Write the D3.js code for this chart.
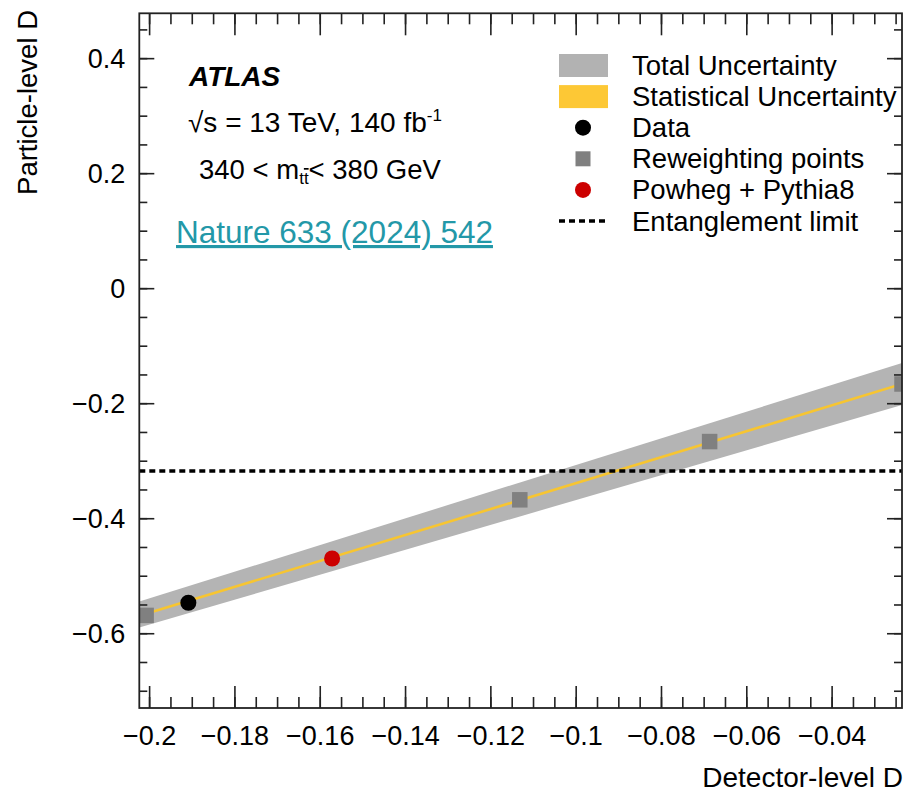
<!DOCTYPE html>
<html>
<head>
<meta charset="utf-8">
<script src="https://cdn.jsdelivr.net/npm/d3@7"></script>
<style>
  body { margin: 0; background: #fff; }
  text { font-family: "Liberation Sans", Arial, sans-serif; fill: #000; }
  .axis path { display: none; }
  .axis line { stroke: #222; stroke-width: 1.6; }
  .axis text { font-size: 27px; }
</style>
</head>
<body>
<svg id="chart"></svg>
<script>
// tick labels
let xMajor = [-0.2, -0.18, -0.16, -0.14, -0.12, -0.1, -0.08, -0.06, -0.04];
let yMajor = [-0.6, -0.4, -0.2, 0, 0.2, 0.4];

// reweighting points (detector-level D, particle-level D)
let reweightX = [-0.2007, -0.1131, -0.0686, -0.0235];
let reweightY = [-0.569, -0.368, -0.2667, -0.1666];

// measured data and MC prediction
let dataX = [-0.1908];
let dataY = [-0.547];
let powhegX = [-0.1571];
let powhegY = [-0.470];

// calibration line and total uncertainty band
let fitX = [-0.2023, -0.0235];
let fitY = [-0.5698, -0.1666];
let bandLo = [-0.590, -0.203];
let bandHi = [-0.545, -0.130];

// entanglement limit
let limitD = -0.318;

let legendItems = ["Total Uncertainty", "Statistical Uncertainty", "Data",
  "Reweighting points", "Powheg + Pythia8", "Entanglement limit"];

let width = 906, height = 792;
let margin = {left: 139.3, right: 4, top: 13.3, bottom: 84};
let x0 = margin.left, x1 = width - margin.right;
let y0 = margin.top, y1 = height - margin.bottom;

let svg = d3.select("#chart").attr("width", width).attr("height", height);

let x = d3.scaleLinear().domain([-0.2023, -0.0235]).range([x0, x1]);
let y = d3.scaleLinear().domain([-0.73, 0.478]).range([y1, y0]);

let fmt = d3.format("");
let xMinor = d3.range(-0.2, -0.0234, 0.005).filter(v => v >= -0.2023);
let yMinor = d3.range(-0.7, 0.48, 0.05);

//clip region = plot frame
svg.append("clipPath").attr("id", "clip")
  .append("rect").attr("x", x0).attr("y", y0).attr("width", x1 - x0).attr("height", y1 - y0);

let plot = svg.append("g").attr("clip-path", "url(#clip)");

// total uncertainty band
let band = fitX.map((v, i) => ({x: v, lo: bandLo[i], hi: bandHi[i]}));
plot.append("path").datum(band)
  .attr("d", d3.area().x(d => x(d.x)).y0(d => y(d.lo)).y1(d => y(d.hi)))
  .attr("fill", "#b4b4b4");

// statistical (thin yellow line)
plot.append("path").datum(fitX.map((v, i) => [v, fitY[i]]))
  .attr("d", d3.line().x(d => x(d[0])).y(d => y(d[1])))
  .attr("stroke", "#f7c531").attr("stroke-width", 2.6).attr("fill", "none");

// entanglement limit
plot.append("line")
  .attr("x1", x0).attr("x2", x1).attr("y1", y(limitD)).attr("y2", y(limitD))
  .attr("stroke", "#000").attr("stroke-width", 3.5).attr("stroke-dasharray", "6,4");

// reweighting squares
let sq = 15.5;
plot.selectAll("rect.rw").data(reweightX.map((v, i) => [v, reweightY[i]])).enter()
  .append("rect").attr("class", "rw")
  .attr("x", d => x(d[0]) - sq / 2).attr("y", d => y(d[1]) - sq / 2)
  .attr("width", sq).attr("height", sq).attr("fill", "#808080");

plot.selectAll("circle.pw").data(powhegX.map((v, i) => [v, powhegY[i]])).enter()
  .append("circle").attr("class", "pw")
  .attr("cx", d => x(d[0])).attr("cy", d => y(d[1])).attr("r", 8).attr("fill", "#cc0000");

plot.selectAll("circle.data").data(dataX.map((v, i) => [v, dataY[i]])).enter()
  .append("circle").attr("class", "data")
  .attr("cx", d => x(d[0])).attr("cy", d => y(d[1])).attr("r", 8).attr("fill", "#000");

// axes: ticks point inward
function addAxis(axis, tx, ty) {
  let g = svg.append("g").attr("class", "axis").attr("transform", translate(tx, ty)).call(axis);
  return g;
}
addAxis(d3.axisBottom(x).tickValues(xMajor).tickSize(-22).tickPadding(18).tickFormat(fmt), 0, y1);
addAxis(d3.axisBottom(x).tickValues(xMinor).tickSize(-11).tickFormat(""), 0, y1);
addAxis(d3.axisTop(x).tickValues(xMajor).tickSize(-22).tickFormat(""), 0, y0);
addAxis(d3.axisTop(x).tickValues(xMinor).tickSize(-11).tickFormat(""), 0, y0);
let yAx = addAxis(d3.axisLeft(y).tickValues(yMajor).tickSize(-15).tickPadding(14).tickFormat(fmt), x0, 0);
yAx.selectAll("text").attr("dy", "0.36em");
addAxis(d3.axisLeft(y).tickValues(yMinor).tickSize(-8).tickFormat(""), x0, 0);
addAxis(d3.axisRight(y).tickValues(yMajor).tickSize(-15).tickFormat(""), x1, 0);
addAxis(d3.axisRight(y).tickValues(yMinor).tickSize(-8).tickFormat(""), x1, 0);

// frame
svg.append("rect").attr("x", x0).attr("y", y0).attr("width", x1 - x0).attr("height", y1 - y0)
  .attr("fill", "none").attr("stroke", "#222").attr("stroke-width", 1.8);

// axis titles
svg.append("text").attr("x", width - 3).attr("y", 787).attr("text-anchor", "end")
  .style("font-size", "28px").text("Detector-level D");
svg.append("text").attr("transform", "translate(37,10) rotate(-90)").attr("text-anchor", "end")
  .style("font-size", "27.5px").text("Particle-level D");

// labels
svg.append("text").attr("x", 189).attr("y", 86)
  .style("font-size", "28px").style("font-weight", "bold").style("font-style", "italic").text("ATLAS");
let t2 = svg.append("text").attr("x", 188).attr("y", 132).style("font-size", "28px");
t2.append("tspan").text("\u221As = 13 TeV, 140 fb");
t2.append("tspan").attr("dy", -11).style("font-size", "17px").text("-1");
let t3 = svg.append("text").attr("x", 199).attr("y", 179).style("font-size", "27.5px");
t3.append("tspan").text("340 < m");
t3.append("tspan").attr("dy", 5).style("font-size", "17px").text("t");
t3.append("tspan").style("font-size", "17px").style("text-decoration", "overline").text("t");
t3.append("tspan").attr("dy", -5).text("< 380 GeV");
svg.append("text").attr("x", 176).attr("y", 243)
  .style("font-size", "31.5px").style("fill", "#2398a8").style("text-decoration", "underline")
  .text("Nature 633 (2024) 542");

// legend
let leg = svg.append("g").attr("transform", translate(559, 65.5));
let rowH = 31.1;
legendItems.forEach(function(name, i) {
  let g = leg.append("g").attr("transform", translate(0, i * rowH));
  if (i === 0) g.append("rect").attr("x", 0).attr("y", -11.5).attr("width", 49).attr("height", 23).attr("fill", "#b2b2b2");
  if (i === 1) g.append("rect").attr("x", 0).attr("y", -11.5).attr("width", 49).attr("height", 23).attr("fill", "#fdc835");
  if (i === 2) g.append("circle").attr("cx", 24).attr("r", 8).attr("fill", "#000");
  if (i === 3) g.append("rect").attr("x", 24 - 7.5).attr("y", -7.5).attr("width", 15).attr("height", 15).attr("fill", "#808080");
  if (i === 4) g.append("circle").attr("cx", 24).attr("r", 8).attr("fill", "#cc0000");
  if (i === 5) g.append("line").attr("x1", 0).attr("x2", 49).attr("stroke", "#000")
    .attr("stroke-width", 3.5).attr("stroke-dasharray", "6,4");
  g.append("text").attr("x", 73).attr("y", 9.5).style("font-size", "27.5px").text(name);
});

function translate(x, y) {
  return 'translate(' + String(x) + ',' + String(y) + ')';
}
</script>
</body>
</html>
